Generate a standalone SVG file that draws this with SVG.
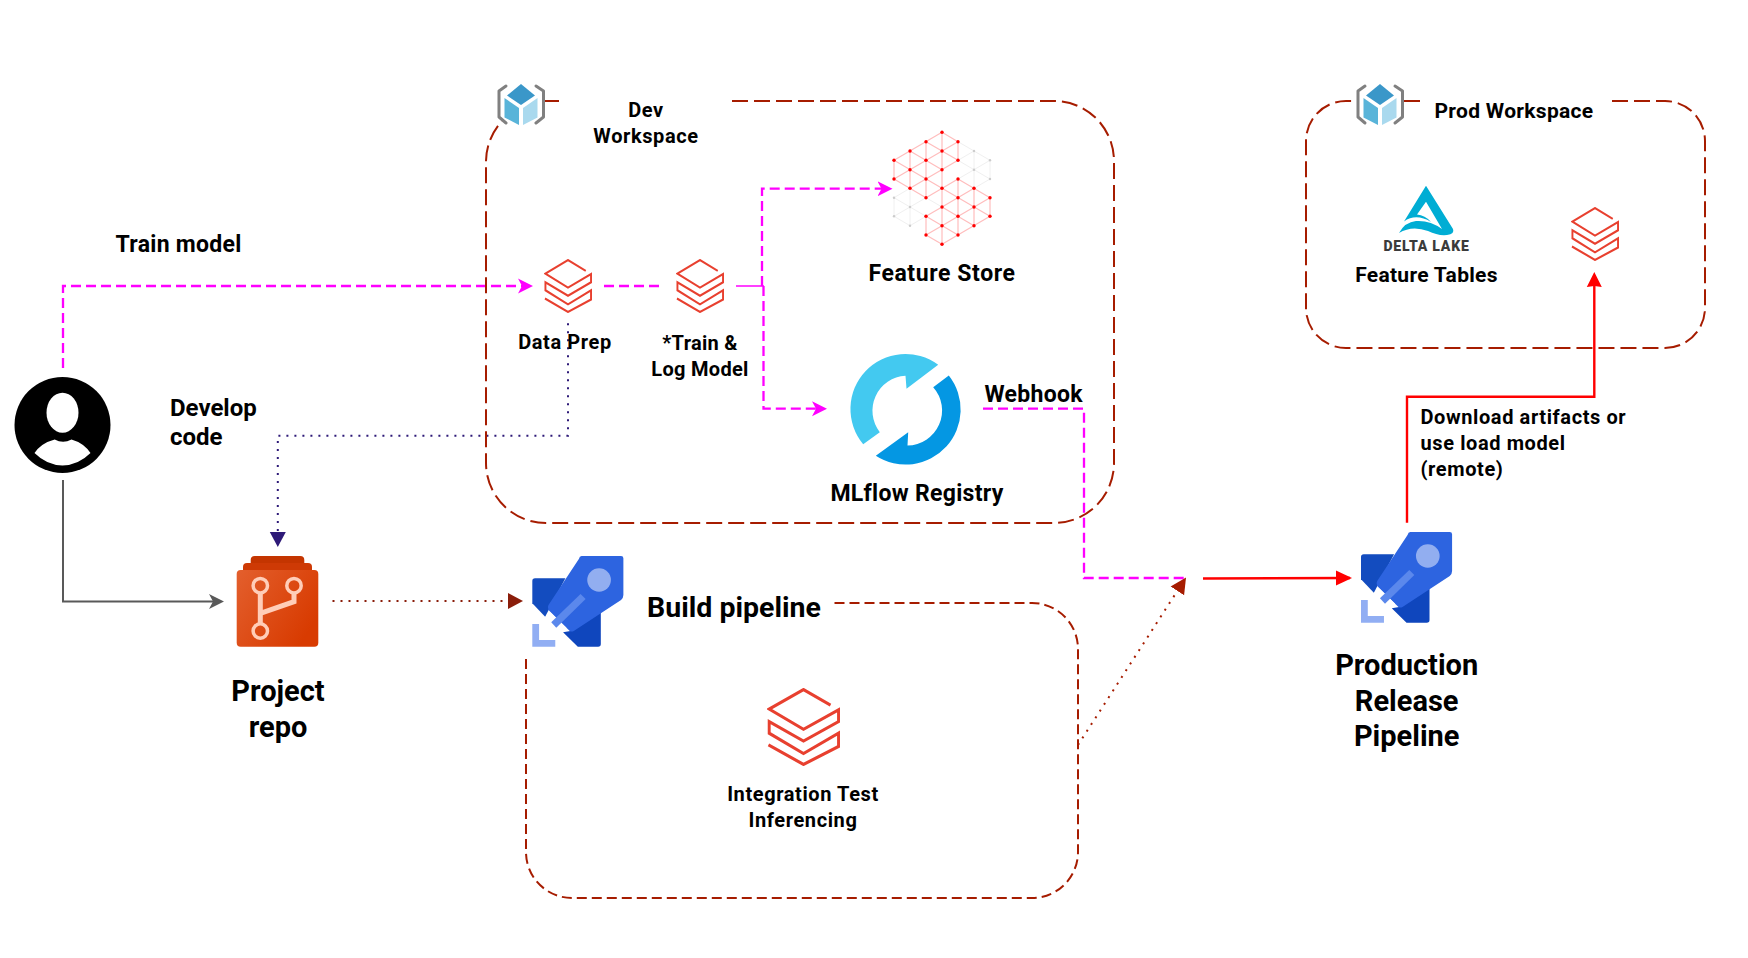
<svg xmlns="http://www.w3.org/2000/svg" width="1748" height="958" viewBox="0 0 1748 958">
<style>
text{font-family:Roboto,"Liberation Sans",sans-serif;font-weight:700;fill:#000;text-anchor:middle}
.l{text-anchor:start}
.s20{font-size:20px}
.s21{font-size:21px}
.s23{font-size:23px}
.s24{font-size:24px}
.s29{font-size:29px}
.ls3{letter-spacing:.3px}
.ls6{letter-spacing:.6px}
.box{fill:none;stroke:#A61C00;stroke-width:2;stroke-dasharray:16 6}
.mg{fill:none;stroke:#F0F;stroke-width:2.300;stroke-dasharray:10 5}
.red{fill:none;stroke:#F00;stroke-width:2.400}
.nav{fill:none;stroke:#2E1A78;stroke-width:2;stroke-dasharray:2 6}
.brn{fill:none;stroke:#8A1D0A;stroke-width:2;stroke-dasharray:2 6}
.brk{fill:none;stroke:#808080;stroke-width:3;stroke-linejoin:round;stroke-linecap:round}
.db{fill:none;stroke:#E8402F;stroke-width:4}
.fr{fill:none;stroke:#FFBDBD;stroke-width:1.200}
.fg{fill:none;stroke:#F0F0F0;stroke-width:1}
</style>
<defs>
<marker id="mOpenMg" markerUnits="userSpaceOnUse" markerWidth="18" markerHeight="18" refX="11" refY="9" orient="auto"><path d="M0 1.500L15 9L0 16.500L4 9Z" fill="#F0F"/></marker>
<marker id="mOpenGr" markerUnits="userSpaceOnUse" markerWidth="18" markerHeight="18" refX="11" refY="9" orient="auto"><path d="M0 1.500L15 9L0 16.500L4 9Z" fill="#595959"/></marker>
<marker id="mRedB" markerUnits="userSpaceOnUse" markerWidth="18" markerHeight="18" refX="14" refY="9" orient="auto"><path d="M0 1.500L16 9L0 16.500Z" fill="#F00"/></marker>
<marker id="mRedN" markerUnits="userSpaceOnUse" markerWidth="18" markerHeight="18" refX="12" refY="9" orient="auto"><path d="M0 1.500L15 9L0 16.500L1 9Z" fill="#F00"/></marker>
<marker id="mNav" markerUnits="userSpaceOnUse" markerWidth="18" markerHeight="18" refX="13" refY="9" orient="auto"><path d="M0 1L15 9L0 17Z" fill="#2E1A78"/></marker>
<marker id="mBrn" markerUnits="userSpaceOnUse" markerWidth="18" markerHeight="18" refX="13" refY="9" orient="auto"><path d="M0 1L15 9L0 17Z" fill="#8A1D0A"/></marker>
<marker id="mBrn2" markerUnits="userSpaceOnUse" markerWidth="18" markerHeight="18" refX="13" refY="9" orient="auto"><path d="M0 1L16 9L0 17Z" fill="#A61C00"/></marker>
<symbol id="dbx" viewBox="0 0 100 100" preserveAspectRatio="none">
<path class="db" d="M87 22L50 2L3 27L50 53L98 28V43L50 68L3 43V58L50 84L98 58V75L50 98L2 73"/>
</symbol>
<g id="cube">
<path d="M521 84L535 95.500L521 105L507 95.500Z" fill="#3A97C9"/>
<path d="M504.500 98L519 108V125L504.500 117.500Z" fill="#59B4D9"/>
<path d="M537.500 98L523 108V125L537.500 117.500Z" fill="#A9D9EE"/>
<path class="brk" d="M506 86L499 91V117L506 123M536 86L543.500 91V117L536 123"/>
</g>
<g id="rocket" transform="translate(532.300 556) scale(1.012 1) translate(-532.300 -556)">
<path d="M532.300 581Q532.300 578.300 535 578.300H565L545 616.700L532.300 603.300Z" fill="#134CBF"/>
<path d="M600 610V644Q600 646.700 597.300 646.700H577.300L562.700 632.300L570 631Z" fill="#0F46BD"/>
<path d="M581 556H620Q622.300 556 622.300 558.300V595Q622.300 598 620 600L573.300 631Q571 632 569.300 631L548.300 610Q547 607 548.300 605L578.300 559Q579 556 581 556Z" fill="#2D64E0"/>
<path d="M550 612.300L566 627.700L561.700 632.300L545 617.300Z" fill="#FFF"/>
<circle cx="598.300" cy="580" r="11.700" fill="#92AEF0"/>
<path d="M580 594L585 599L556 627.700L551 622.300Z" fill="#5B88EC"/>
<path d="M532.300 624H539V640H555V646.700H532.300Z" fill="#91AEF3"/>
</g>
<linearGradient id="repoG" x1="0" y1="0" x2="1" y2="0.600"><stop offset="0" stop-color="#E35F2D"/><stop offset="1" stop-color="#D83B01"/></linearGradient>
</defs>

<g id="connectors">
<path class="mg" d="M63 368V286H529" marker-end="url(#mOpenMg)"/>
<path class="mg" d="M604 286H664"/>
<path d="M736 286H764" fill="none" stroke="#F0F" stroke-width="1.500"/>
<path class="mg" d="M762 286V188.700H888.500" marker-end="url(#mOpenMg)"/>
<path class="mg" d="M763.500 286V408.700H823" marker-end="url(#mOpenMg)"/>
<path class="mg" d="M983 408.700H1084V578H1185.500"/>
<path class="red" d="M1203 578.500L1350 578" marker-end="url(#mRedB)"/>
<path class="red" d="M1407 522.700V396.700H1594.300V275" marker-end="url(#mRedN)"/>
<path d="M63 480V601.500H220" fill="none" stroke="#595959" stroke-width="2" marker-end="url(#mOpenGr)"/>
<path class="nav" d="M568 323.300V435.700H277.800V545" marker-end="url(#mNav)"/>
<path class="brn" d="M332.500 601H521" marker-end="url(#mBrn)"/>
<path d="M1078 745L1184.400 580" fill="none" stroke="#A61C00" stroke-width="2" stroke-dasharray="2 6" marker-end="url(#mBrn2)"/>
</g>

<g id="dev-workspace">
<path class="box" d="M732 101H1054A60 60 0 0 1 1114 161V463A60 60 0 0 1 1054 523H546A60 60 0 0 1 486 463V161A60 60 0 0 1 502 121"/>
<path class="box" d="M544 101H559"/>
<use href="#cube"/>
<text class="s20 ls6" x="646" y="117">Dev</text>
<text class="s20 ls6" x="646" y="143">Workspace</text>
</g>

<g id="prod-workspace">
<path class="box" d="M1612 101H1665A40 40 0 0 1 1705 141V308A40 40 0 0 1 1665 348H1346A40 40 0 0 1 1306 308V141A40 40 0 0 1 1346 101H1357"/>
<path class="box" d="M1404 101H1420"/>
<use href="#cube" x="859"/>
<text class="s21 ls3" x="1514" y="117.500">Prod Workspace</text>
</g>

<g id="build-box">
<path d="M834.500 603H1032A46 46 0 0 1 1078 649V852A46 46 0 0 1 1032 898H572A46 46 0 0 1 526 852V657" fill="none" stroke="#A61C00" stroke-width="2" stroke-dasharray="10 5"/>
</g>

<g id="user">
<circle cx="62.500" cy="425" r="48" fill="#000"/>
<ellipse cx="62.500" cy="412.700" rx="16" ry="20" fill="#FFF"/>
<path d="M54.700 439.400Q63 444 71.500 439.400Q84 443 90.500 453Q78 465.400 62.500 465.400Q47 465.400 34.500 453Q41 443 54.700 439.400Z" fill="#FFF"/>
</g>

<g id="train-label"><text class="s23 l ls3" x="115.500" y="252">Train model</text></g>
<g id="develop-label"><text class="s24 l" x="170" y="416">Develop</text><text class="s24 l" x="170" y="445">code</text></g>

<g id="data-prep">
<use href="#dbx" x="544" y="259" width="48" height="54"/>
<text class="s20 ls6" x="565" y="349">Data Prep</text>
</g>
<g id="train-log">
<use href="#dbx" x="676" y="259" width="48" height="54"/>
<text class="s20 ls3" x="700" y="350">*Train &amp;</text>
<text class="s20 ls3" x="700" y="376">Log Model</text>
</g>

<g id="feature-store">
<path class="fg" d="M974 151V188.300M990 160.300V179M958 141.700L974 151L990 160.300M958 160.300L974 151M958 160.300L974 169.700L990 160.300M974 169.700L990 179L974 188.300M958 179L974 169.700M894 197.700V216.300M910 207V225.700M894 197.700L910 207L926 197.700M910 188.300L894 197.700M894 216.300L910 207L926 216.300M894 216.300L910 225.700L926 216.300M926 197.700L942 207M910 207V188.300"/>
<path class="fr" d="M894 160.300V179M910 151V188.300M926 141.700V197.700M926 216.300V235M942 132.300V244.300M958 141.700V160.300M958 179V235M974 188.300V225.700M990 197.700V216.300M894 160.300L942 188.300L990 216.300M894 179L926 197.700M942 207L974 225.700M910 151L942 169.700M958 179L990 197.700M926 141.700L958 160.300M942 132.300L958 141.700M926 216.300L958 235M894 160.300L942 132.300M894 179L958 141.700M910 188.300L958 160.300M926 197.700L958 179M942 207L974 188.300M926 216.300L942 207M942 225.700L990 197.700M926 235L942 225.700M942 244.300L990 216.300M926 235L942 244.300"/>
<g fill="#CCC">
<circle cx="894" cy="197.700" r="1.200"/><circle cx="894" cy="216.300" r="1.200"/><circle cx="910" cy="207" r="1.200"/><circle cx="910" cy="225.700" r="1.200"/><circle cx="974" cy="151" r="1.200"/><circle cx="974" cy="169.700" r="1.200"/><circle cx="990" cy="160.300" r="1.200"/><circle cx="990" cy="179" r="1.200"/>
</g>
<g fill="#F00">
<circle cx="894" cy="160.300" r="1.700"/><circle cx="894" cy="179" r="1.700"/><circle cx="910" cy="151" r="1.700"/><circle cx="910" cy="169.700" r="1.700"/><circle cx="910" cy="188.300" r="1.700"/><circle cx="926" cy="141.700" r="1.700"/><circle cx="926" cy="160.300" r="1.700"/><circle cx="926" cy="179" r="1.700"/><circle cx="926" cy="197.700" r="1.700"/><circle cx="926" cy="216.300" r="1.700"/><circle cx="926" cy="235" r="1.700"/><circle cx="942" cy="132.300" r="1.700"/><circle cx="942" cy="151" r="1.700"/><circle cx="942" cy="169.700" r="1.700"/><circle cx="942" cy="188.300" r="1.700"/><circle cx="942" cy="207" r="1.700"/><circle cx="942" cy="225.700" r="1.700"/><circle cx="942" cy="244.300" r="1.700"/><circle cx="958" cy="141.700" r="1.700"/><circle cx="958" cy="160.300" r="1.700"/><circle cx="958" cy="179" r="1.700"/><circle cx="958" cy="197.700" r="1.700"/><circle cx="958" cy="216.300" r="1.700"/><circle cx="958" cy="235" r="1.700"/><circle cx="974" cy="188.300" r="1.700"/><circle cx="974" cy="207" r="1.700"/><circle cx="974" cy="225.700" r="1.700"/><circle cx="990" cy="197.700" r="1.700"/><circle cx="990" cy="216.300" r="1.700"/>
</g>
<text class="s23 ls6" x="942" y="281">Feature Store</text>
</g>

<g id="mlflow-registry">
<path transform="translate(1.500 1.500)" d="M936.700 363.300A55 55 0 0 0 861.700 442.700L878.300 430.700A35 35 0 0 1 904 374.300L905 387.300Z" fill="#43C9F0"/>
<path transform="translate(1.500 1.500)" d="M947.300 374A55 55 0 0 1 874.300 454.300L906.700 430.700L906 444A35 35 0 0 0 931.700 385.700Z" fill="#0497E3"/>
<text class="s23 ls3" x="917" y="501">MLflow Registry</text>
</g>
<g id="webhook-label"><text class="s23 l ls3" x="984.500" y="402">Webhook</text></g>

<g id="feature-tables">
<path d="M1426 185.700L1453 229Q1455 234 1447 235Q1438 236 1428 231Q1412 225 1399 233Q1405 222 1416 221Q1430 220 1442 229L1426 201.700L1417 214.500Q1425 215 1431 222Q1416 213 1404 221.500Z" fill="#00ADD4"/>
<text x="1426.500" y="250.500" style="font-size:14px;font-weight:900;letter-spacing:.8px;fill:#3B3B3B">DELTA LAKE</text>
<text class="s21 ls3" x="1426.500" y="282">Feature Tables</text>
</g>
<g id="prod-databricks"><use href="#dbx" x="1571" y="207" width="48" height="54"/></g>

<g id="project-repo">
<rect x="250.700" y="556" width="53.600" height="30" rx="4" fill="#C43500"/>
<rect x="243" y="563" width="69" height="30" rx="4" fill="#CE3A05"/>
<rect x="236.700" y="570" width="81.600" height="76.700" rx="4" fill="url(#repoG)"/>
<g fill="none" stroke="#FFCDB8">
<circle cx="260.300" cy="585.700" r="7.200" stroke-width="3.500"/><circle cx="294" cy="585.700" r="7.200" stroke-width="3.500"/><circle cx="260.300" cy="631" r="7.200" stroke-width="3.500"/>
<path stroke-width="5" d="M260.300 594V623M260.300 613.300L294 601.700V594"/>
</g>
<text class="s29" x="278" y="701">Project</text>
<text class="s29" x="278" y="737">repo</text>
</g>

<g id="build-pipeline">
<use href="#rocket"/>
<text x="734" y="617" style="font-size:28.500px">Build pipeline</text>
<use href="#dbx" x="767" y="688" width="73" height="78"/>
<text class="s20 ls6" x="803" y="801">Integration Test</text>
<text class="s20 ls6" x="803" y="827">Inferencing</text>
</g>

<g id="release-pipeline">
<use href="#rocket" transform="translate(828.700 -24)"/>
<text class="s29" x="1406.700" y="675">Production</text>
<text class="s29" x="1406.700" y="711">Release</text>
<text class="s29" x="1406.700" y="746">Pipeline</text>
</g>

<g id="download-label">
<text class="s20 l ls6" x="1420.500" y="424">Download artifacts or</text>
<text class="s20 l ls6" x="1420.500" y="450">use load model</text>
<text class="s20 l ls6" x="1420.500" y="476">(remote)</text>
</g>
</svg>
